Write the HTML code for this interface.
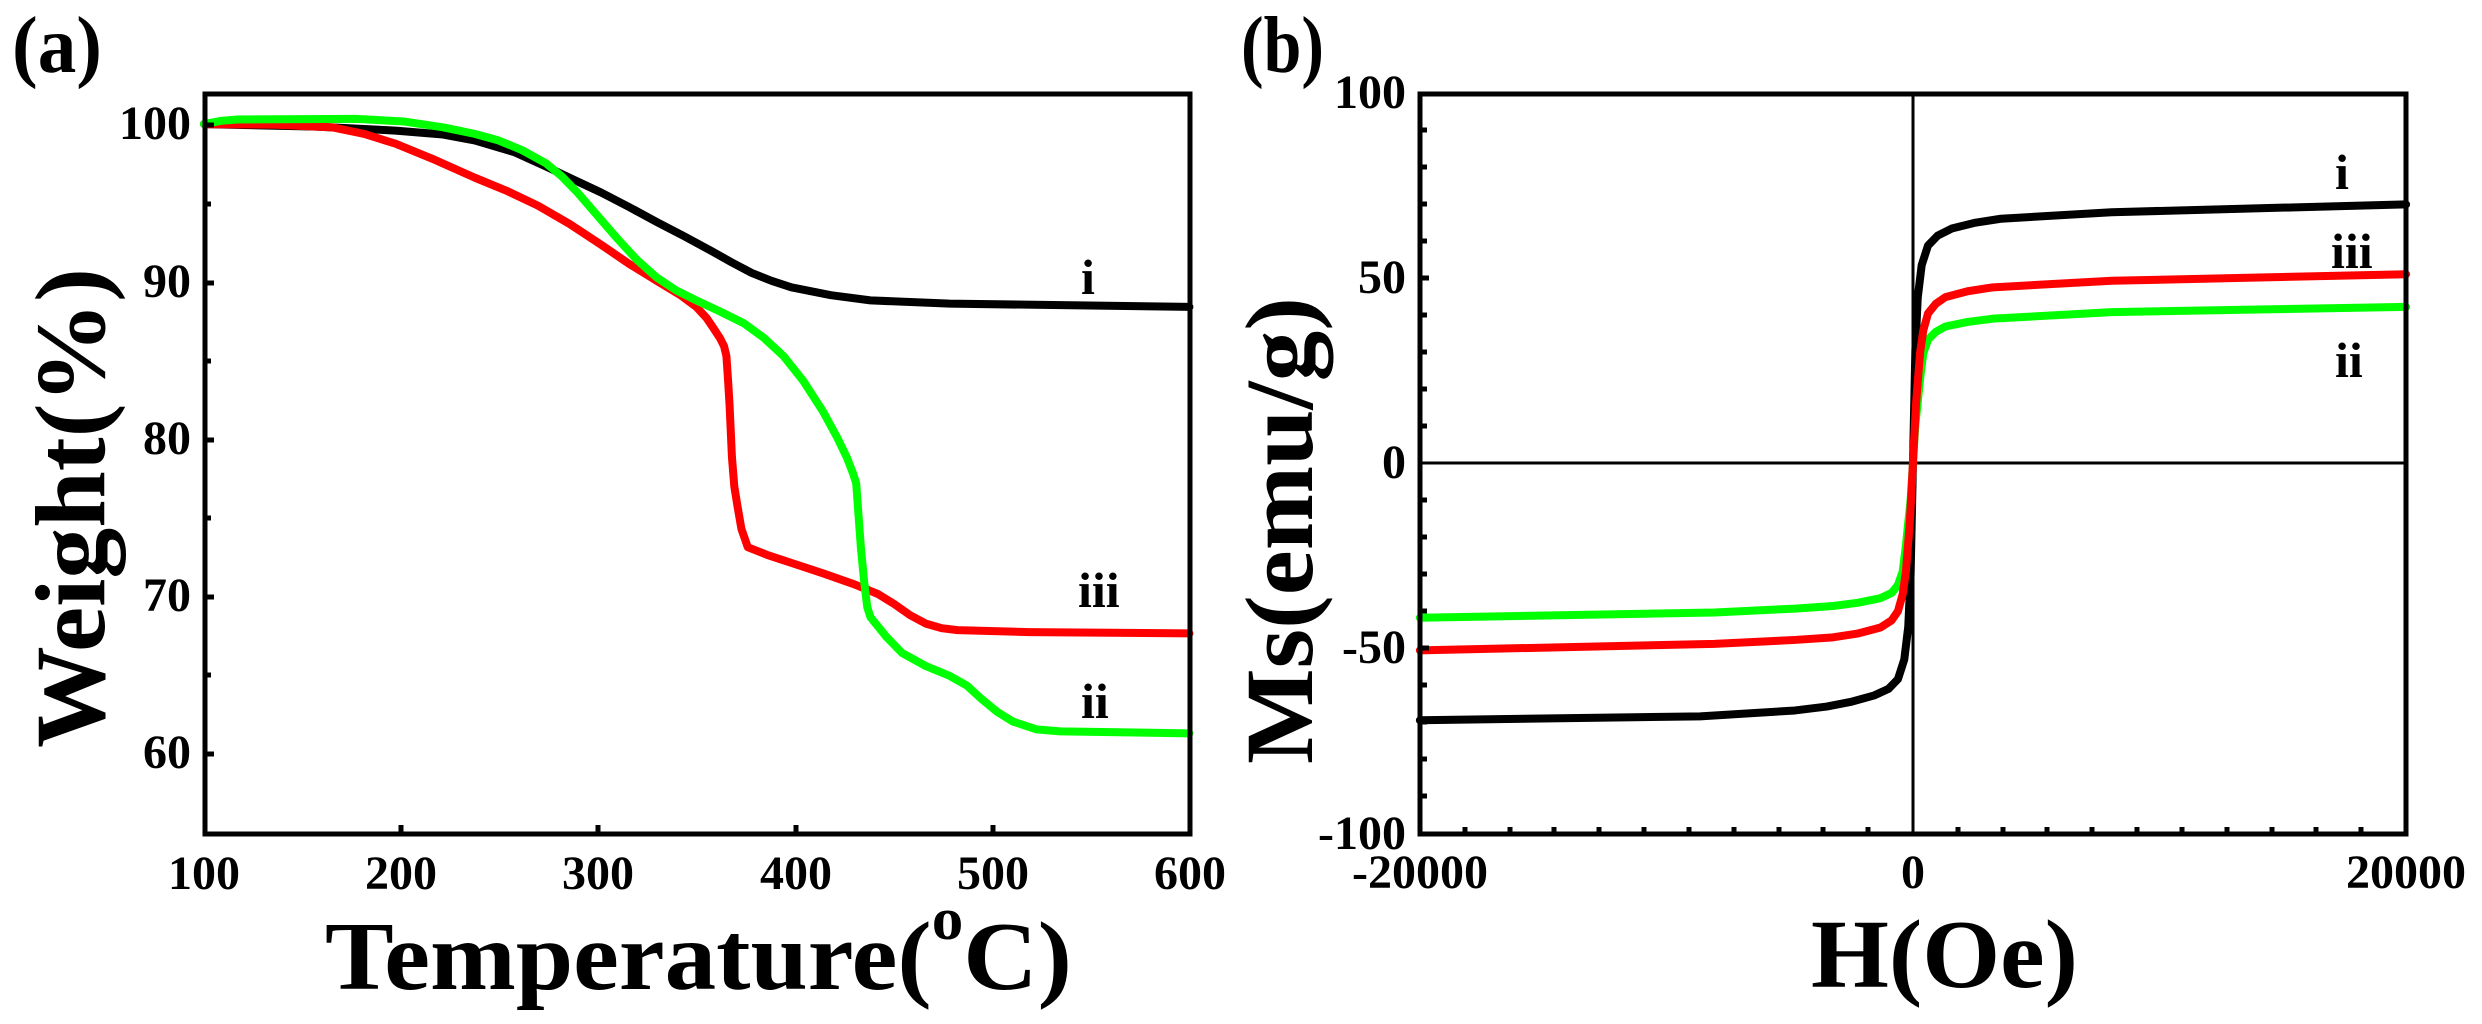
<!DOCTYPE html>
<html><head><meta charset="utf-8"><style>html,body{margin:0;padding:0;background:#fff}svg{display:block}text{font-family:"Liberation Serif","Times New Roman",serif;font-weight:bold;fill:#000}</style></head>
<body>
<svg width="2482" height="1024" viewBox="0 0 2482 1024" xmlns="http://www.w3.org/2000/svg">
<!-- Panel a -->
<text x="12" y="72" font-size="80" textLength="90" lengthAdjust="spacingAndGlyphs">(a)</text>
<g fill="none" stroke-width="8" stroke-linejoin="round" stroke-linecap="round">
<g transform="translate(204,0) scale(0.7915,0.653) translate(-258,0)">
<polyline vector-effect="non-scaling-stroke" stroke="#000" points="258,190 400,194 500,200 560,206 600,215 650,233 690,255 725,275 760,295 795,317 830,340 865,362 900,385 925,402 950,418 975,430 1000,440 1050,452 1100,460 1200,465 1503,470"/>
<polyline vector-effect="non-scaling-stroke" stroke="#ff0000" points="258,190 350,191 420,195 460,205 500,220 550,245 600,272 640,292 680,315 720,343 760,375 795,404 830,430 860,452 880,470 893,487 903,505 910,518 915,530 918,545 920,580 922,620 925,700 928,745 932,775 937,810 945,838 970,850 1000,862 1040,878 1080,895 1110,910 1130,925 1150,942 1170,955 1190,962 1210,965 1300,968 1503,970"/>
<polyline vector-effect="non-scaling-stroke" stroke="#00ff00" points="258,190 280,185 300,183 450,182 510,186 560,195 600,205 630,215 660,230 690,250 710,270 730,295 755,330 780,365 805,398 830,425 855,445 880,460 910,477 940,495 965,517 990,545 1015,583 1040,630 1058,670 1070,700 1078,725 1082,740 1085,790 1088,840 1092,890 1096,930 1100,945 1120,975 1140,1000 1170,1020 1200,1035 1222,1050 1240,1070 1260,1090 1280,1105 1310,1117 1340,1120 1503,1123"/>
</g>
</g>
<g stroke="#000" stroke-width="5" fill="none">
<rect x="205" y="94" width="985" height="740"/>
<path d="M205 125h9M205 283h9M205 440h9M205 597h9M205 754h9M205 204h6M205 361h6M205 518h6M205 675h6M401 834v-9M598 834v-9M796 834v-9M993 834v-9"/>
</g>
<g font-size="48" text-anchor="end">
<text x="191" y="139">100</text><text x="191" y="297">90</text><text x="191" y="454">80</text><text x="191" y="611">70</text><text x="191" y="768">60</text>
</g>
<g font-size="48" text-anchor="middle">
<text x="204" y="889">100</text><text x="401" y="889">200</text><text x="598" y="889">300</text><text x="796" y="889">400</text><text x="993" y="889">500</text><text x="1190" y="889">600</text>
</g>
<g font-size="50">
<text x="1081" y="294">i</text><text x="1078" y="607">iii</text><text x="1081" y="718">ii</text>
</g>
<text x="325" y="989" font-size="98" textLength="747" lengthAdjust="spacingAndGlyphs">Temperature(<tspan font-size="60" dy="-50">o</tspan><tspan dy="50">C)</tspan></text>
<text transform="translate(104,748) rotate(-90)" font-size="100" textLength="480" lengthAdjust="spacingAndGlyphs">Weight(%)</text>

<!-- Panel b -->
<text x="1241" y="72" font-size="80" textLength="83" lengthAdjust="spacingAndGlyphs">(b)</text>
<g stroke="#000" stroke-width="3">
<line x1="1913" y1="94" x2="1913" y2="834"/>
<line x1="1420" y1="463" x2="2406" y2="463"/>
</g>
<g fill="none" stroke-width="8" stroke-linejoin="round" stroke-linecap="round">
<g transform="translate(1241,0) scale(0.7915,0.653)">
<polyline vector-effect="non-scaling-stroke" stroke="#000" points="226,1103 580,1097 700,1088 740,1082 770,1075 800,1065 818,1055 830,1040 838,1010 843,960 846,880 849,708 852,536 855,456 860,406 868,376 880,361 898,350 928,341 960,335 1100,325 1472,313"/>
<polyline vector-effect="non-scaling-stroke" stroke="#00ff00" points="226,946 598,938 700,932 748,928 780,923 808,916 822,908 830,896 836,875 840,836 843,800 846,766 849,708 852,650 855,616 858,580 862,541 868,520 878,508 890,500 918,493 950,488 1100,478 1472,470"/>
<polyline vector-effect="non-scaling-stroke" stroke="#ff0000" points="226,996 598,986 700,980 748,976 780,970 808,961 822,950 830,936 836,910 840,876 845,800 849,708 853,616 858,540 862,506 868,480 878,465 890,455 918,446 950,440 1100,430 1472,420"/>
</g>
</g>
<g stroke="#000" stroke-width="5" fill="none">
<rect x="1420" y="94" width="986" height="740"/>
<path d="M1420 130h7M1420 167h7M1420 204h7M1420 241h7M1420 278h9M1420 315h7M1420 352h7M1420 389h7M1420 426h7M1420 500h7M1420 537h7M1420 574h7M1420 611h7M1420 648h9M1420 685h7M1420 722h7M1420 759h7M1420 796h7"/>
<path d="M1465 834v-7M1510 834v-7M1554 834v-7M1599 834v-7M1644 834v-7M1689 834v-7M1734 834v-7M1779 834v-7M1823 834v-7M1868 834v-7M1958 834v-7M2003 834v-7M2047 834v-7M2092 834v-7M2137 834v-7M2182 834v-7M2227 834v-7M2272 834v-7M2316 834v-7M2361 834v-7"/>
</g>
<g font-size="48" text-anchor="end">
<text x="1406" y="108">100</text><text x="1406" y="293">50</text><text x="1406" y="478">0</text><text x="1406" y="663">-50</text><text x="1406" y="849">-100</text>
</g>
<g font-size="48" text-anchor="middle">
<text x="1420" y="888">-20000</text><text x="1913" y="888">0</text><text x="2406" y="888">20000</text>
</g>
<g font-size="50">
<text x="2335" y="189">i</text><text x="2331" y="268">iii</text><text x="2335" y="377">ii</text>
</g>
<text x="1811" y="987" font-size="98" textLength="267" lengthAdjust="spacingAndGlyphs">H(Oe)</text>
<text transform="translate(1312,764) rotate(-90)" font-size="96" textLength="467" lengthAdjust="spacingAndGlyphs">Ms(emu/g)</text>
</svg>
</body></html>
